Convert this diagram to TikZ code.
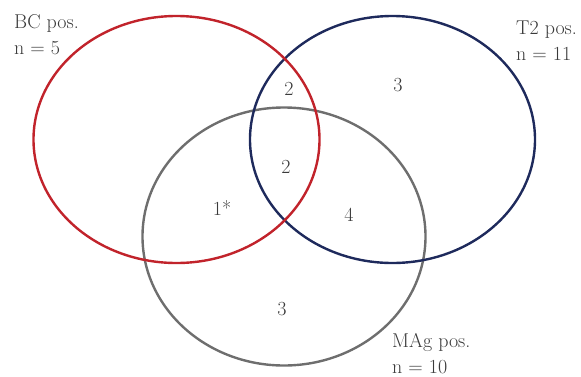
\documentclass[tikz,border=0pt]{standalone}
\usepackage{tikz}
\usetikzlibrary{positioning}
\definecolor{bcred}{HTML}{C1232B}
\definecolor{tnavy}{HTML}{1E2A5C}
\definecolor{maggray}{HTML}{6E6E6E}
\definecolor{inktext}{HTML}{3A3A3A}
\newcommand{\vennfont}{\fontsize{20pt}{26pt}\selectfont}

\begin{document}
\begin{tikzpicture}[
    x=1pt, y=-1pt,
    setring/.style={line width=2.4pt, draw=#1},
    setlabel/.style={font=\vennfont, text=inktext, align=left, inner sep=0pt, anchor=north west},
    count/.style={font=\vennfont, text=inktext, inner sep=0pt}
]
\useasboundingbox (0,0) rectangle (581,376);

\draw[setring=maggray] (284,236.5) ellipse [x radius=141.5, y radius=129];
\draw[setring=tnavy] (392.5,139.5) ellipse [x radius=142.5, y radius=123.5];
\draw[setring=bcred] (176.5,139.5) ellipse [x radius=143, y radius=123.5];

\node[setlabel] (bc) at (14,14) {BC pos.\\n = 5};
\node[setlabel] (t2) at (516,21) {T2 pos.\\n = 11};
\node[setlabel] (mag) at (392,333) {MAg pos.\\n = 10};

\node[count] (bct2) at (289,89) {2};
\node[count] (t2only) at (398,85) {3};
\node[count] (all) at (286,167) {2};
\node[count] (bcmag) at (222,208) {1*};
\node[count] (t2mag) at (349,215) {4};
\node[count] (magonly) at (282,309) {3};

\end{tikzpicture}
\end{document}
